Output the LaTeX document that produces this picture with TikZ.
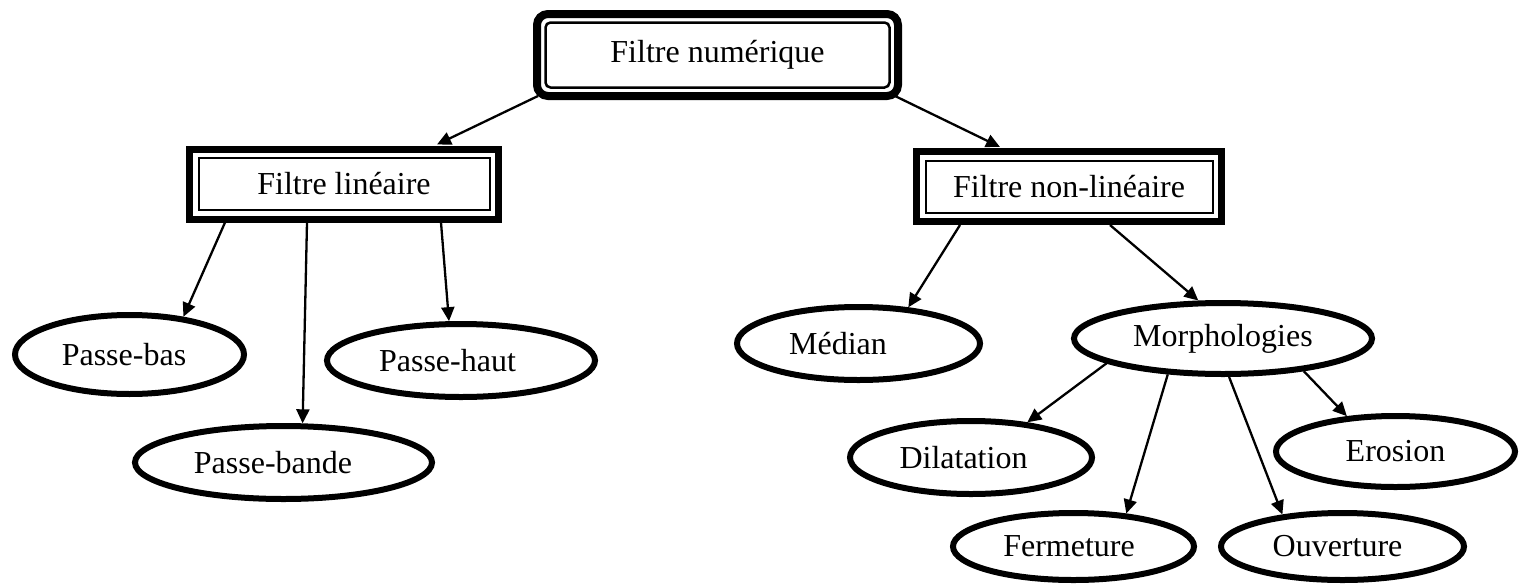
\documentclass[tikz,border=0pt]{standalone}
\usepackage{fontspec}
\setmainfont{Liberation Serif}
\usetikzlibrary{arrows.meta,shapes.geometric}

\begin{document}
\begin{tikzpicture}[x=1pt, y=-1pt, >={Triangle[length=14pt,width=13pt]},
    font=\fontsize{32pt}{38pt}\selectfont,
    topbox/.style={draw, line width=8pt, rounded corners=11pt, inner sep=0pt,
      minimum width=361pt, minimum height=82pt,
      path picture={\draw[line width=2.5pt, rounded corners=5pt]
        ([xshift=8.5pt,yshift=-8.5pt]path picture bounding box.north west) rectangle
        ([xshift=-8.5pt,yshift=8.5pt]path picture bounding box.south east);}},
    catbox/.style={draw, line width=7pt, inner sep=0pt, minimum height=70pt,
      path picture={\draw[line width=2pt]
        ([xshift=9pt,yshift=-9pt]path picture bounding box.north west) rectangle
        ([xshift=-9pt,yshift=9pt]path picture bounding box.south east);}},
    leaf/.style={ellipse, draw, line width=6pt, inner sep=0pt},
    nudge/.style={execute at end node={\hspace*{#1}}},
    arr/.style={->, line width=2.3pt}]
  \fill[white] (0,0) rectangle (1524,584);
  \useasboundingbox (0,0) rectangle (1524,584);

  \node[topbox] (num) at (717.5,55) {Filtre numérique};
  \node[catbox, minimum width=309pt] (lin) at (344,184) {Filtre linéaire};
  \node[catbox, minimum width=305pt] (nlin) at (1069,186.5) {Filtre non-linéaire};

  \node[leaf, nudge=11pt, minimum width=229pt, minimum height=79pt] (pbas) at (129.5,354.5) {Passe-bas};
  \node[leaf, nudge=27pt, minimum width=268pt, minimum height=73pt] (phaut) at (461,360.5) {Passe-haut};
  \node[leaf, nudge=21pt, minimum width=297pt, minimum height=73pt] (pbande) at (283.5,462.5) {Passe-bande};

  \node[leaf, nudge=41pt, minimum width=243pt, minimum height=73pt] (med) at (858.5,343.5) {Médian};
  \node[leaf, minimum width=298pt, minimum height=71pt] (morph) at (1223,338.5) {Morphologies};
  \node[leaf, nudge=15pt, minimum width=242pt, minimum height=73pt] (dil) at (971,457.5) {Dilatation};
  \node[leaf, minimum width=239pt, minimum height=71pt] (ero) at (1395.5,451.5) {Erosion};
  \node[leaf, nudge=9pt, minimum width=241pt, minimum height=67pt] (ferm) at (1073.5,546.5) {Fermeture};
  \node[leaf, nudge=10pt, minimum width=243pt, minimum height=67pt] (ouv) at (1342.5,546.5) {Ouverture};

  \draw[arr] ([xshift=5pt,yshift=4pt]num.south west) -- ([xshift=93pt,yshift=1pt]lin.north);
  \draw[arr] ([xshift=-7pt,yshift=4pt]num.south east) -- ([xshift=-69pt,yshift=1pt]nlin.north);

  \draw[arr] ([xshift=-119pt]lin.south) -- (pbas.35);
  \draw[arr] ([xshift=-37pt]lin.south) -- (pbande.64);
  \draw[arr] ([xshift=97pt]lin.south) -- (phaut.107);

  \draw[arr] ([xshift=-109pt]nlin.south) -- (med.36);
  \draw[arr] ([xshift=41pt]nlin.south) -- (morph.123);

  \draw[arr] (morph.192) -- (dil.32);
  \draw[arr] (morph.213) -- (ferm.32);
  \draw[arr] (morph.279) -- (ouv.152);
  \draw[arr] (morph.338) -- (ero.144);
\end{tikzpicture}
\end{document}
